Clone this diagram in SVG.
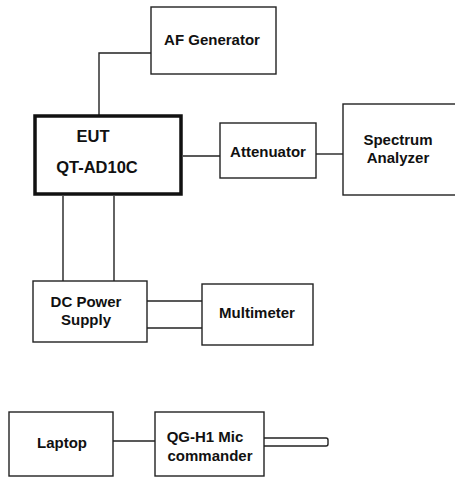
<svg xmlns="http://www.w3.org/2000/svg" width="455" height="479" viewBox="0 0 455 479">
<style>
.box{fill:#fff;stroke:#222;stroke-width:1.4}
.thick{fill:#fff;stroke:#111;stroke-width:3.5}
.ln{fill:none;stroke:#222;stroke-width:1.4}
text{font-family:"Liberation Sans",Arial,sans-serif;font-weight:bold;font-size:15px;fill:#111;text-anchor:middle}
.big{font-size:16.5px}
</style>
<rect width="455" height="479" fill="#fff"/>
<g id="connectors">
<polyline class="ln" points="151,53 99,53 99,116"/>
<line class="ln" x1="183" y1="156" x2="220" y2="156"/>
<line class="ln" x1="316" y1="154" x2="343" y2="154"/>
<line class="ln" x1="63" y1="196" x2="63" y2="281"/>
<line class="ln" x1="114" y1="196" x2="114" y2="281"/>
<line class="ln" x1="147" y1="301" x2="202" y2="301"/>
<line class="ln" x1="147" y1="328" x2="202" y2="328"/>
<line class="ln" x1="113" y1="441" x2="157" y2="441"/>
</g>
<g id="af-generator">
<rect class="box" x="151" y="7" width="125" height="67"/>
<text x="212" y="45">AF Generator</text>
</g>
<g id="eut">
<rect class="thick" x="35" y="116" width="146" height="78"/>
<text class="big" x="93" y="142">EUT</text>
<text class="big" x="97" y="173">QT-AD10C</text>
</g>
<g id="attenuator">
<rect class="box" x="220" y="123" width="96" height="55"/>
<text x="268" y="157">Attenuator</text>
</g>
<g id="spectrum-analyzer">
<rect class="box" x="343" y="104" width="120" height="91"/>
<text x="398" y="145">Spectrum</text>
<text x="398" y="163">Analyzer</text>
</g>
<g id="dc-power-supply">
<rect class="box" x="33" y="281" width="114" height="61"/>
<text x="86" y="307">DC Power</text>
<text x="86" y="325">Supply</text>
</g>
<g id="multimeter">
<rect class="box" x="202" y="284" width="111" height="61"/>
<text x="257" y="318">Multimeter</text>
</g>
<g id="laptop">
<rect class="box" x="9" y="412" width="104" height="64"/>
<text x="62" y="448">Laptop</text>
</g>
<g id="mic-commander">
<rect class="box" x="155" y="412" width="109" height="64"/>
<text x="205" y="442">QG-H1 Mic</text>
<text x="210" y="461">commander</text>
<path class="ln" d="M264,438 H326 Q328,438 328,440 V444 Q328,446 326,446 H264"/>
</g>
</svg>
